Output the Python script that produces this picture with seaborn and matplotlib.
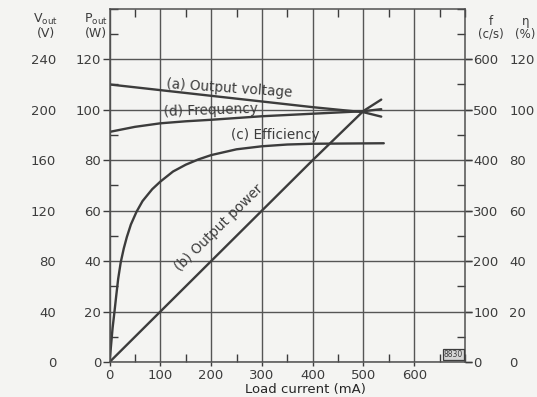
import matplotlib
matplotlib.use("Agg")
import matplotlib.pyplot as plt
from matplotlib.ticker import MultipleLocator
import pandas as pd
import seaborn as sns

# readings taken off the scanned chart
load_voltage = [0, 100, 200, 300, 400, 500, 535]
output_voltage = [220, 215.5, 211, 206.5, 202, 198, 194.5]

load_freq = [0, 50, 100, 150, 200, 300, 400, 500, 535]
frequency = [456, 466, 473, 477, 480, 487, 492, 497, 501]

load_power = [0, 100, 200, 300, 400, 500, 535]
output_power = [0, 20, 40, 60, 80, 99.5, 104]

load_eff = [0, 2, 4, 6, 8, 10, 13, 17, 22, 28, 34, 42, 53, 65, 84, 100,
            125, 150, 175, 200, 250, 300, 350, 400, 540]
efficiency = [0, 4.5, 9, 13.5, 17, 20.5, 26, 33, 39.5, 45, 49.5, 54.5, 59.5,
              63.8, 68.5, 71.5, 75.5, 78.2, 80.3, 82, 84.3, 85.5, 86.2, 86.5, 86.7]

x_ticks = [0, 100, 200, 300, 400, 500, 600]
p_ticks = [0, 20, 40, 60, 80, 100, 120]
v_ticks = [0, 40, 80, 120, 160, 200, 240]
f_ticks = [0, 100, 200, 300, 400, 500, 600]
eta_ticks = [0, 20, 40, 60, 80, 100, 120]

ink = "#3c3c3c"
paper = "#f4f4f2"

sns.set_style("ticks")
plt.rcParams["font.family"] = ["DejaVu Sans"]
plt.rcParams["text.color"] = ink
plt.rcParams["xtick.color"] = ink
plt.rcParams["ytick.color"] = ink

fig = plt.figure(figsize=(5.37, 3.97), dpi=100, facecolor=paper)
ax = fig.add_axes([0.204, 0.088, 0.662, 0.890])
ax.set_facecolor(paper)

# everything is drawn on the P_out scale (W); the other scales are multiples of it
df_v = pd.DataFrame({"load": load_voltage, "y": [v / 2 for v in output_voltage]})
df_f = pd.DataFrame({"load": load_freq, "y": [f / 5 for f in frequency]})
df_p = pd.DataFrame({"load": load_power, "y": output_power})
df_e = pd.DataFrame({"load": load_eff, "y": efficiency})

for d in [df_v, df_f, df_p, df_e]:
    sns.lineplot(data=d, x="load", y="y", ax=ax, color=ink, lw=1.7,
                 sort=False, estimator=None)

ax.set_xlim(0, 700)
ax.set_ylim(0, 140)
ax.set_xticks(x_ticks)
ax.set_yticks(p_ticks)
ax.xaxis.set_minor_locator(MultipleLocator(50))
ax.yaxis.set_minor_locator(MultipleLocator(10))
ax.grid(True, which="major", color="#555555", lw=1.0)
ax.set_axisbelow(True)
for s in ax.spines.values():
    s.set_color("#505050")
    s.set_linewidth(1.1)

ax.tick_params(which="major", direction="out", length=5, width=1,
               labelsize=9.5, pad=1, top=False, right=True)
ax.tick_params(which="minor", direction="in", length=6, width=1,
               top=True, right=True, bottom=True, left=True)
ax.tick_params(axis="x", which="major", length=3, pad=2)
ax.set_xlabel("Load current (mA)", fontsize=9.5, labelpad=1)
ax.xaxis.set_label_coords(0.55, -0.058)
ax.set_ylabel("")

# left-hand voltage scale
v_ax = ax.secondary_yaxis(-0.15, functions=(lambda p: p * 2, lambda v: v / 2))
v_ax.set_yticks(v_ticks)
v_ax.spines["left"].set_visible(False)
v_ax.tick_params(length=0, labelsize=9.5, pad=0)

# right-hand frequency and efficiency scales
f_ax = ax.secondary_yaxis("right", functions=(lambda p: p * 5, lambda f: f / 5))
f_ax.set_yticks(f_ticks)
f_ax.spines["right"].set_visible(False)
f_ax.tick_params(length=5, width=1, labelsize=9.5, pad=1, direction="out")

e_ax = ax.secondary_yaxis(1.125, functions=(lambda p: p, lambda e: e))
e_ax.set_yticks(eta_ticks)
e_ax.spines["right"].set_visible(False)
e_ax.tick_params(length=0, labelsize=9.5, pad=0)

# scale headings
fig.text(0.085, 0.935, "V$_\\mathregular{out}$\n(V)", ha="center", va="center",
         fontsize=9, linespacing=1.0)
fig.text(0.178, 0.935, "P$_\\mathregular{out}$\n(W)", ha="center", va="center",
         fontsize=9, linespacing=1.0)
fig.text(0.914, 0.93, "f\n(c/s)", ha="center", va="center", fontsize=8.5,
         linespacing=1.0)
fig.text(0.978, 0.93, "\u03b7\n(%)", ha="center", va="center", fontsize=8.5,
         linespacing=1.0)

# curve labels
lab = dict(fontsize=9.8, ha="center", va="center", color=ink)
ax.text(236, 108.5, "(a) Output voltage", rotation=-4, **lab)
ax.text(200, 99.8, "(d) Frequency", rotation=2, **lab)
ax.text(326, 90, "(c) Efficiency", **lab)
ax.text(215, 53, "(b) Output power", rotation=44.5, rotation_mode="anchor", **lab)

ax.text(696, 1.2, "8830", fontsize=5.5, ha="right", va="bottom",
        bbox=dict(boxstyle="square,pad=0.15", fc="#d6d6d6", ec=ink, lw=0.9))

fig.savefig("out.png", dpi=100, facecolor=paper)
